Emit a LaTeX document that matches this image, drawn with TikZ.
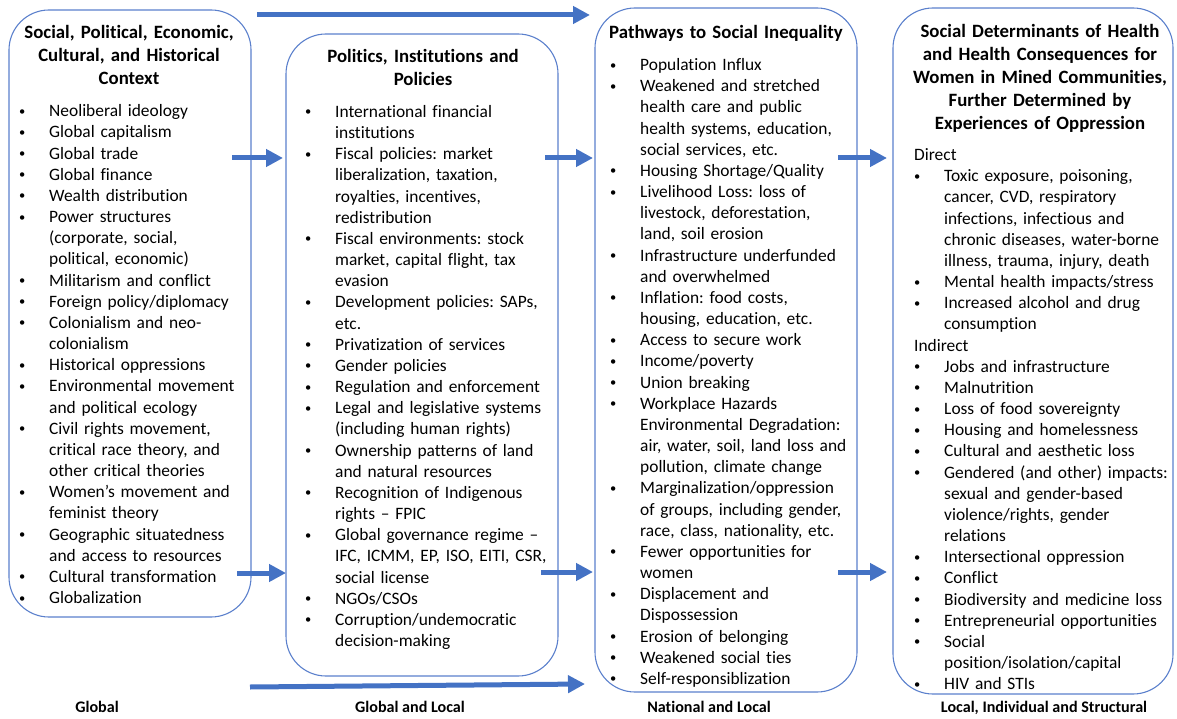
\documentclass[tikz,border=0pt]{standalone}
\usepackage{fontspec}
\setmainfont{Carlito}[Ligatures=NoCommon]
\usetikzlibrary{arrows.meta}
\definecolor{flowblue}{HTML}{4472C4}
\definecolor{edgeblue}{HTML}{5B80CC}

% bullet and continuation indent for the list lines
\newcommand\bul{\makebox[30pt][l]{\raisebox{1.5pt}{\fontsize{12.5}{12.5}\selectfont\textbullet}}}
\newcommand\cnt{\hspace*{30pt}}

\begin{document}
\frenchspacing
\begin{tikzpicture}[x=1pt,y=-1pt,
  box/.style={draw=edgeblue, line width=1.1pt, rounded corners=40pt, inner sep=0pt},
  head/.style={anchor=north, align=center, text width=300pt, inner sep=0pt,
    font=\fontsize{18.8}{23}\selectfont\bfseries\frenchspacing},
  body/.style={anchor=north west, align=left, text width=300pt, inner sep=0pt,
    font=\fontsize{17.4}{21.17}\selectfont\frenchspacing},
  level/.style={anchor=base, inner sep=0pt, font=\fontsize{16.1}{19}\selectfont\bfseries},
  flow/.style={draw=flowblue, line width=5pt, -{Triangle[length=17pt,width=17pt]}}
]
\useasboundingbox (0,0) rectangle (1177,719);

% the four columns
\node[box, minimum width=242pt, minimum height=607pt] (b1) at (130,313.5) {};
\node[box, minimum width=272pt, minimum height=642pt] (b2) at (422,355) {};
\node[box, minimum width=262pt, minimum height=684pt] (b3) at (726,350) {};
\node[box, minimum width=280pt, minimum height=686pt] (b4) at (1033,351) {};

% headings
\node[head] (h1) at (129,22.5) {\strut Social, Political, Economic,\\ Cultural, and Historical\\ Context};
\node[head] (h2) at (423,46.5) {\strut Politics, Institutions and\\ Policies};
\node[head] (h3) at (726,22.5) {\strut Pathways to Social Inequality};
\node[head] (h4) at (1040,21.5) {\strut Social Determinants of Health\\ and Health Consequences for\\ Women in Mined Communities,\\ Further Determined by\\ Experiences of Oppression};

% column lists
\node[body] (t1) at (19,101.7) {\strut\bul Neoliberal ideology\\
\bul Global capitalism\\
\bul Global trade\\
\bul Global finance\\
\bul Wealth distribution\\
\bul Power structures\\
\cnt (corporate, social,\\
\cnt political, economic)\\
\bul Militarism and conflict\\
\bul Foreign policy/diplomacy\\
\bul Colonialism and neo-\\
\cnt colonialism\\
\bul Historical oppressions\\
\bul Environmental movement\\
\cnt and political ecology\\
\bul Civil rights movement,\\
\cnt critical race theory, and\\
\cnt other critical theories\\
\bul Women’s movement and\\
\cnt feminist theory\\
\bul Geographic situatedness\\
\cnt and access to resources\\
\bul Cultural transformation\\
\bul Globalization};

\node[body] (t2) at (305,102.4) {\strut\bul International financial\\
\cnt institutions\\
\bul Fiscal policies: market\\
\cnt liberalization, taxation,\\
\cnt royalties, incentives,\\
\cnt redistribution\\
\bul Fiscal environments: stock\\
\cnt market, capital flight, tax\\
\cnt evasion\\
\bul Development policies: SAPs,\\
\cnt etc.\\
\bul Privatization of services\\
\bul Gender policies\\
\bul Regulation and enforcement\\
\bul Legal and legislative systems\\
\cnt (including human rights)\\
\bul Ownership patterns of land\\
\cnt and natural resources\\
\bul Recognition of Indigenous\\
\cnt rights – FPIC\\
\bul Global governance regime –\\
\cnt IFC, ICMM, EP, ISO, EITI, CSR,\\
\cnt social license\\
\bul NGOs/CSOs\\
\bul Corruption/undemocratic\\
\cnt decision-making};

\node[body] (t3) at (610,55.5) {\strut\bul Population Influx\\
\bul Weakened and stretched\\
\cnt health care and public\\
\cnt health systems, education,\\
\cnt social services, etc.\\
\bul Housing Shortage/Quality\\
\bul Livelihood Loss: loss of\\
\cnt livestock, deforestation,\\
\cnt land, soil erosion\\
\bul Infrastructure underfunded\\
\cnt and overwhelmed\\
\bul Inflation: food costs,\\
\cnt housing, education, etc.\\
\bul Access to secure work\\
\bul Income/poverty\\
\bul Union breaking\\
\bul Workplace Hazards\\
\cnt Environmental Degradation:\\
\cnt air, water, soil, land loss and\\
\cnt pollution, climate change\\
\bul Marginalization/oppression\\
\cnt of groups, including gender,\\
\cnt race, class, nationality, etc.\\
\bul Fewer opportunities for\\
\cnt women\\
\bul Displacement and\\
\cnt Dispossession\\
\bul Erosion of belonging\\
\bul Weakened social ties\\
\bul Self-responsiblization};

\node[body] (t4) at (914,145.5) {\strut Direct\\
\bul Toxic exposure, poisoning,\\
\cnt cancer, CVD, respiratory\\
\cnt infections, infectious and\\
\cnt chronic diseases, water-borne\\
\cnt illness, trauma, injury, death\\
\bul Mental health impacts/stress\\
\bul Increased alcohol and drug\\
\cnt consumption\\
Indirect\\
\bul Jobs and infrastructure\\
\bul Malnutrition\\
\bul Loss of food sovereignty\\
\bul Housing and homelessness\\
\bul Cultural and aesthetic loss\\
\bul Gendered (and other) impacts:\\
\cnt sexual and gender-based\\
\cnt violence/rights, gender\\
\cnt relations\\
\bul Intersectional oppression\\
\bul Conflict\\
\bul Biodiversity and medicine loss\\
\bul Entrepreneurial opportunities\\
\bul Social\\
\cnt position/isolation/capital\\
\bul HIV and STIs};

% scale labels under the columns
\node[level] (l1) at (97,712) {Global};
\node[level] (l2) at (410,712) {Global and Local};
\node[level] (l3) at (709,712) {National and Local};
\node[level] (l4) at (1044,712) {Local, Individual and Structural};

% arrow end points
\coordinate (topS) at (257,15);
\coordinate (topE) at (590,15);
\coordinate (botS) at (250,687);
\coordinate (botE) at (585,684);
\coordinate (a1S) at (232,158);
\coordinate (a1E) at (283,158);
\coordinate (a2S) at (237,573);
\coordinate (a2E) at (286,573);
\coordinate (a3S) at (545,158);
\coordinate (a3E) at (593,158);
\coordinate (a4S) at (541,572);
\coordinate (a4E) at (593,572);
\coordinate (a5S) at (838,158);
\coordinate (a5E) at (887,158);
\coordinate (a6S) at (838,572);
\coordinate (a6E) at (887,572);

\draw[flow] (topS) -- (topE);
\draw[flow] (botS) -- (botE);
\draw[flow] (a1S) -- (a1E);
\draw[flow] (a2S) -- (a2E);
\draw[flow] (a3S) -- (a3E);
\draw[flow] (a4S) -- (a4E);
\draw[flow] (a5S) -- (a5E);
\draw[flow] (a6S) -- (a6E);
\end{tikzpicture}
\end{document}
